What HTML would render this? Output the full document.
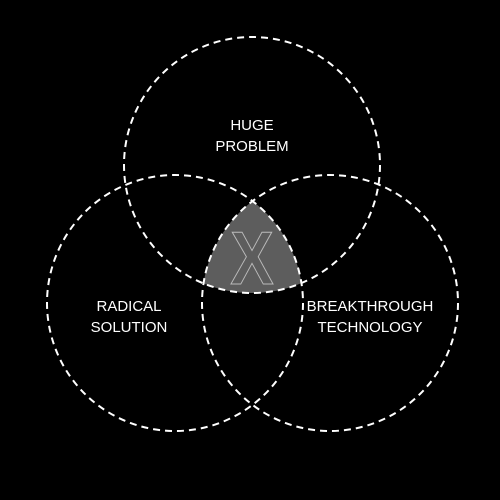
<!DOCTYPE html>
<html><head><style>html,body{margin:0;background:#000;width:500px;height:500px;overflow:hidden}</style></head>
<body>
<svg width="500" height="500" viewBox="0 0 500 500" font-family="Liberation Sans, sans-serif">
<defs>
<clipPath id="cA"><circle cx="252" cy="165" r="128"/></clipPath>
<clipPath id="cB" clip-path="url(#cA)"><circle cx="175" cy="303" r="128"/></clipPath>
<clipPath id="cC" clip-path="url(#cB)"><circle cx="330" cy="303" r="128"/></clipPath>
</defs>
<rect width="500" height="500" fill="#000"/>
<rect width="500" height="500" fill="#5d5d5d" clip-path="url(#cC)"/>
<text x="0" y="0" transform="translate(252,284) scale(0.9,1.05)" text-anchor="middle" font-size="72" fill="none" stroke="#bbb" stroke-width="1" font-weight="bold">X</text>
<g fill="none" stroke="#fff" stroke-width="2" stroke-dasharray="7 5">
<circle cx="252" cy="165" r="128"/>
<circle cx="175" cy="303" r="128"/>
<circle cx="330" cy="303" r="128"/>
</g>
<g fill="#fff" font-size="15" text-anchor="middle">
<text x="252" y="130"><tspan x="252">HUGE</tspan><tspan x="252" dy="21">PROBLEM</tspan></text>
<text x="129" y="311"><tspan x="129">RADICAL</tspan><tspan x="129" dy="21">SOLUTION</tspan></text>
<text x="370" y="311"><tspan x="370">BREAKTHROUGH</tspan><tspan x="370" dy="21">TECHNOLOGY</tspan></text>
</g>
</svg>
</body></html>
